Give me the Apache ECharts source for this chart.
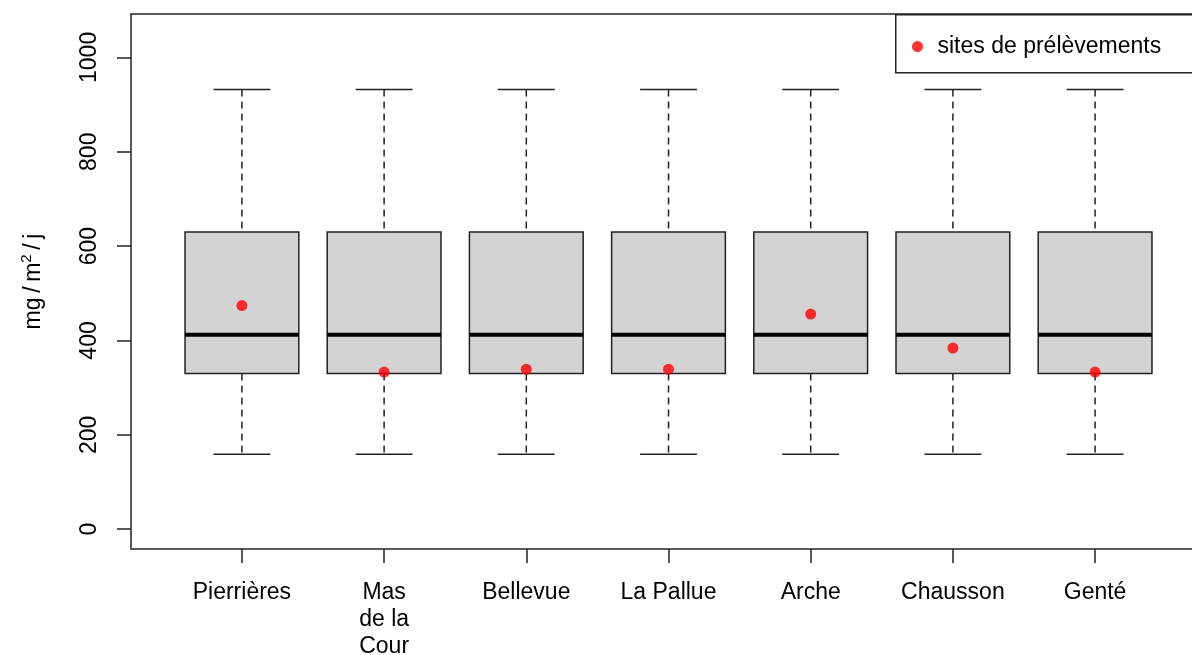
<!DOCTYPE html>
<html>
<head>
<meta charset="utf-8">
<script src="https://cdn.jsdelivr.net/npm/echarts@6/dist/echarts.min.js"></script>
<style>
  html, body { margin: 0; padding: 0; background: #fff; }
  #chart { width: 1192px; height: 655px; }
</style>
</head>
<body>
<div id="chart"></div>
<script>
// sites (x categories)
const sites = ['Pierrières', 'Mas\nde la\nCour', 'Bellevue', 'La Pallue', 'Arche', 'Chausson', 'Genté'];

// box statistics per site (mg/m²/j)
const lowWhisker = [159, 159, 159, 159, 159, 159, 159];
const lowerQuartile = [330, 330, 330, 330, 330, 330, 330];
const medians = [412, 412, 412, 412, 412, 412, 412];
const upperQuartile = [630, 630, 630, 630, 630, 630, 630];
const highWhisker = [932, 932, 932, 932, 932, 932, 932];

// measured value at each sampling site
const siteValues = [474, 333, 339, 339, 456, 384, 333];

const yTicks = [0, 200, 400, 600, 800, 1000];
const xTicks = sites.map((s, i) => i + 1);

const font = '"Liberation Sans", Arial, sans-serif';
const ink = '#222';

const boxData = sites.map((s, i) => [
  i + 1, lowWhisker[i], lowerQuartile[i], medians[i], upperQuartile[i], highWhisker[i]
]);
const pointData = sites.map((s, i) => [i + 1, siteValues[i]]);

function renderBox(params, api) {
  const x = api.value(0);
  const pLow = api.coord([x, api.value(1)]);
  const pQ1 = api.coord([x, api.value(2)]);
  const pMed = api.coord([x, api.value(3)]);
  const pQ3 = api.coord([x, api.value(4)]);
  const pHigh = api.coord([x, api.value(5)]);
  const boxW = api.size([0.8, 0])[0];
  const capW = api.size([0.4, 0])[0];
  const cx = pMed[0];
  const dashed = { stroke: ink, lineWidth: 1.5, lineDash: [7, 5] };
  const solid = { stroke: ink, lineWidth: 1.5 };
  return {
    type: 'group',
    children: [
      { type: 'line', shape: { x1: cx, y1: pHigh[1], x2: cx, y2: pQ3[1] }, style: dashed },
      { type: 'line', shape: { x1: cx, y1: pQ1[1], x2: cx, y2: pLow[1] }, style: dashed },
      { type: 'line', shape: { x1: cx - capW / 2, y1: pHigh[1], x2: cx + capW / 2, y2: pHigh[1] }, style: solid },
      { type: 'line', shape: { x1: cx - capW / 2, y1: pLow[1], x2: cx + capW / 2, y2: pLow[1] }, style: solid },
      {
        type: 'rect',
        shape: { x: cx - boxW / 2, y: pQ3[1], width: boxW, height: pQ1[1] - pQ3[1] },
        style: { fill: '#d3d3d3', stroke: ink, lineWidth: 1.5 }
      },
      { type: 'line', shape: { x1: cx - boxW / 2, y1: pMed[1], x2: cx + boxW / 2, y2: pMed[1] }, style: { stroke: '#000', lineWidth: 4 } }
    ]
  };
}

const chart = echarts.init(document.getElementById('chart'));
chart.setOption({
  animation: false,
  backgroundColor: '#fff',
  textStyle: { fontFamily: font },
  grid: {
    left: 131, top: 14, width: 1075, height: 535,
    outerBoundsMode: 'none', containLabel: false,
    show: true, borderColor: ink, borderWidth: 1.5, backgroundColor: 'transparent'
  },
  // legend frame runs past the right edge like the plot box
  graphic: [{
    type: 'rect', left: 895, top: 14, z: 10,
    shape: { width: 330, height: 58 },
    style: { fill: 'transparent', stroke: ink, lineWidth: 1.5 }
  }],
  legend: {
    left: 912, top: 21,
    padding: [14, 0, 14, 0],
    itemWidth: 30, itemHeight: 11, icon: 'circle',
    textStyle: { fontFamily: font, fontSize: 23, color: '#000' },
    data: ['sites de prélèvements']
  },
  xAxis: {
    type: 'value', min: 0.22, max: 7.78,
    axisLine: { show: false, onZero: false },
    splitLine: { show: false },
    axisTick: { show: true, customValues: xTicks, length: 14, lineStyle: { color: ink, width: 1.5 } },
    axisLabel: {
      customValues: xTicks,
      formatter: v => sites[Math.round(v) - 1],
      fontSize: 23, lineHeight: 27, color: '#000', margin: 30, fontFamily: font
    }
  },
  yAxis: {
    type: 'value', min: -42, max: 1092,
    name: 'mg\u2009/\u2009m{sup|2}\u2009/\u2009j',
    nameLocation: 'middle', nameRotate: 90, nameGap: 82,
    nameTextStyle: {
      fontFamily: font, fontSize: 23, color: '#000', lineHeight: 30,
      rich: { sup: { fontSize: 15, verticalAlign: 'top', lineHeight: 14, fontFamily: font, color: '#000' } }
    },
    axisLine: { show: false, onZero: false },
    splitLine: { show: false },
    axisTick: { show: true, customValues: yTicks, length: 14, lineStyle: { color: ink, width: 1.5 } },
    axisLabel: {
      customValues: yTicks, rotate: 90,
      formatter: v => String(v),
      fontSize: 23, lineHeight: 26, color: '#000', margin: 28, fontFamily: font
    }
  },
  series: [
    {
      type: 'custom',
      name: 'boxes',
      renderItem: renderBox,
      encode: { x: 0, y: [1, 2, 3, 4, 5] },
      data: boxData,
      z: 2
    },
    {
      type: 'scatter',
      name: 'sites de prélèvements',
      symbol: 'circle',
      symbolSize: 11,
      itemStyle: { color: '#ff0000' },
      data: pointData,
      z: 3
    }
  ]
});
</script>
</body>
</html>
